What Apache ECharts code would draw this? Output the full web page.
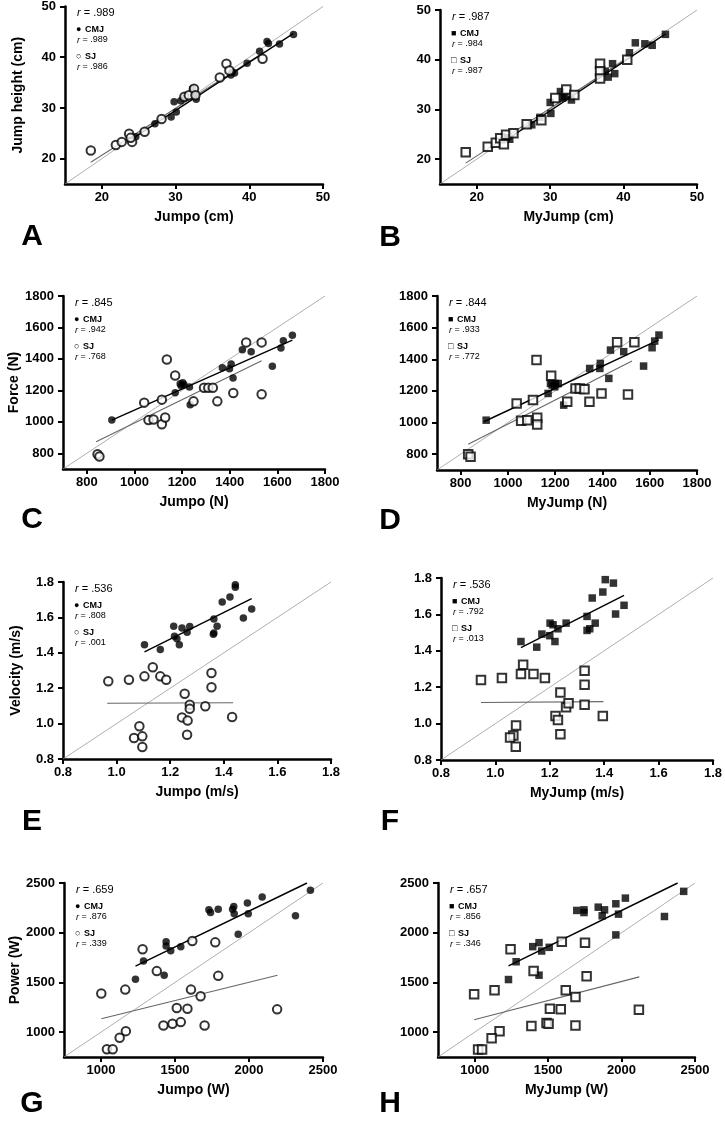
<!DOCTYPE html>
<html><head><meta charset="utf-8">
<script src="https://cdn.jsdelivr.net/npm/echarts@6/dist/echarts.min.js"></script>
<style>html,body{margin:0;padding:0;background:#fff}#c{width:725px;height:1125px}</style>
</head><body><div id="c"></div>
<script>
// ---------- tick labels ----------
const heightTicks = [20, 30, 40, 50];
const forceTicks = [800, 1000, 1200, 1400, 1600, 1800];
const velTicks = [0.8, 1.0, 1.2, 1.4, 1.6, 1.8];
const powerTicks = [1000, 1500, 2000, 2500];

// ---------- axis ranges ----------
const heightRange = [15, 50];
const forceRange = [700, 1800];
const velRange = [0.8, 1.8];
const powerRange = [750, 2500];

// ---------- r values: [overall, CMJ, SJ] ----------
const rA = ['.989', '.989', '.986'];
const rB = ['.987', '.984', '.987'];
const rC = ['.845', '.942', '.768'];
const rD = ['.844', '.933', '.772'];
const rE = ['.536', '.808', '.001'];
const rF = ['.536', '.792', '.013'];
const rG = ['.659', '.876', '.339'];
const rH = ['.657', '.856', '.346'];

// ---------- A: jump height, Jumpo ----------
const A_cmj = [[46.0,44.5],[44.1,42.6],[42.4,43.1],[42.6,42.7],[41.4,41.2],[39.7,38.8],[38.0,36.9],[37.5,36.5],[37.7,37.1],[32.8,31.7],[32.5,32.7],[32.3,33.8],[31.3,32.1],[30.7,31.4],[29.8,31.2],[30.1,29.2],[29.4,28.2],[27.2,26.9],[24.6,24.3],[24.0,23.8]];
const A_sj = [[18.5,21.6],[21.9,22.7],[22.7,23.3],[23.7,24.9],[24.1,23.3],[23.9,24.1],[25.8,25.3],[28.1,27.8],[31.2,32.2],[31.8,32.5],[32.5,33.8],[32.7,32.5],[36.0,36.0],[36.9,38.7],[37.3,37.4],[41.8,39.7]];
const A_fitCmj = [[23.8,23.6],[46.0,44.7]];
const A_fitSj = [[18.5,19.3],[41.8,40.8]];

// ---------- B: jump height, MyJump ----------
const B_cmj = [[45.7,45.1],[43.9,42.9],[42.9,43.2],[41.6,43.4],[40.8,41.4],[38.5,39.2],[38.8,37.2],[37.9,36.5],[37.5,37.7],[32.9,31.9],[32.0,32.6],[31.4,33.6],[31.7,32.3],[30.0,31.4],[30.1,29.2],[28.6,28.4],[27.5,26.9],[24.5,24.0],[24.0,24.3]];
const B_sj = [[18.5,21.4],[21.5,22.5],[22.6,23.3],[23.2,24.2],[23.7,23.0],[24.0,24.9],[25.0,25.2],[26.8,27.0],[28.8,27.8],[30.7,32.3],[32.2,34.0],[33.3,32.9],[36.8,39.2],[36.8,37.7],[36.8,36.2],[40.5,40.0]];
const B_fitCmj = [[24.0,23.8],[45.7,45.2]];
const B_fitSj = [[18.5,19.2],[40.5,40.3]];

// ---------- C: force, Jumpo ----------
const C_cmj = [[905,1011],[1171,1185],[1192,1242],[1203,1248],[1208,1236],[1231,1221],[1234,1109],[1369,1343],[1399,1337],[1406,1368],[1414,1278],[1453,1459],[1490,1446],[1579,1354],[1615,1469],[1625,1516],[1663,1551],[1196,1230]];
const C_sj = [[845,794],[853,779],[1041,1122],[1059,1011],[1080,1015],[1115,1141],[1115,985],[1129,1027],[1136,1396],[1171,1295],[1248,1130],[1292,1217],[1310,1217],[1329,1217],[1348,1130],[1415,1183],[1469,1505],[1534,1175],[1534,1505]];
const C_fitCmj = [[905,1011],[1663,1520]];
const C_fitSj = [[839,874],[1534,1389]];

// ---------- D: force, MyJump ----------
const D_cmj = [[908,1015],[1170,1184],[1180,1247],[1187,1237],[1201,1247],[1213,1247],[1198,1226],[1236,1110],[1346,1342],[1391,1374],[1389,1342],[1427,1279],[1434,1458],[1490,1448],[1574,1357],[1610,1473],[1621,1515],[1639,1553]];
const D_sj = [[832,800],[842,783],[1037,1121],[1056,1011],[1082,1015],[1106,1142],[1121,1395],[1124,1030],[1124,988],[1183,1296],[1251,1131],[1286,1216],[1304,1216],[1324,1211],[1345,1131],[1396,1184],[1462,1507],[1508,1178],[1535,1507]];
const D_fitCmj = [[898,1005],[1638,1522]];
const D_fitSj = [[832,863],[1525,1389]];

// ---------- E: velocity, Jumpo ----------
const E_cmj = [[1.104,1.446],[1.163,1.418],[1.213,1.550],[1.216,1.493],[1.225,1.480],[1.234,1.446],[1.244,1.540],[1.263,1.516],[1.273,1.548],[1.363,1.512],[1.363,1.591],[1.375,1.550],[1.394,1.687],[1.423,1.715],[1.443,1.785],[1.443,1.770],[1.473,1.597],[1.504,1.647],[1.361,1.505]];
const E_sj = [[0.969,1.239],[1.046,1.248],[1.104,1.267],[1.135,1.318],[1.163,1.267],[1.185,1.248],[1.085,0.985],[1.065,0.919],[1.096,0.928],[1.096,0.868],[1.244,1.035],[1.254,1.169],[1.265,1.017],[1.263,0.937],[1.273,1.107],[1.273,1.084],[1.331,1.098],[1.354,1.286],[1.354,1.205],[1.431,1.037]];
const E_fitCmj = [[1.104,1.405],[1.504,1.706]];
const E_fitSj = [[0.965,1.115],[1.435,1.118]];

// ---------- F: velocity, MyJump ----------
const F_cmj = [[1.094,1.451],[1.152,1.420],[1.171,1.492],[1.200,1.483],[1.201,1.552],[1.212,1.543],[1.219,1.451],[1.230,1.521],[1.260,1.552],[1.337,1.589],[1.337,1.512],[1.347,1.521],[1.367,1.552],[1.356,1.690],[1.395,1.723],[1.404,1.791],[1.434,1.772],[1.442,1.602],[1.473,1.650]];
const F_sj = [[0.947,1.240],[1.024,1.250],[1.094,1.272],[1.102,1.323],[1.140,1.272],[1.182,1.250],[1.076,0.989],[1.066,0.934],[1.054,0.923],[1.075,0.873],[1.221,1.042],[1.230,1.020],[1.239,1.171],[1.239,0.941],[1.260,1.090],[1.269,1.112],[1.328,1.290],[1.328,1.213],[1.328,1.103],[1.395,1.042]];
const F_fitCmj = [[1.094,1.418],[1.473,1.705]];
const F_fitSj = [[0.947,1.116],[1.397,1.121]];

// ---------- G: power, Jumpo ----------
const G_cmj = [[2415,2426],[2314,2170],[2089,2359],[1989,2298],[1995,2190],[1927,1984],[1897,2264],[1889,2237],[1900,2190],[1792,2237],[1729,2230],[1740,2203],[1539,1860],[1471,1819],[1440,1910],[1440,1866],[1427,1573],[1287,1715],[1233,1533]];
const G_sj = [[1002,1388],[1164,1428],[1281,1833],[1377,1614],[1617,1917],[1772,1903],[1792,1566],[1608,1428],[1673,1361],[1512,1243],[1584,1236],[1422,1067],[1483,1084],[1539,1101],[1700,1067],[2190,1229],[1168,1010],[1126,943],[1040,828],[1079,828]];
const G_fitCmj = [[1233,1664],[2392,2500]];
const G_fitSj = [[1002,1135],[2192,1573]];

// ---------- H: power, MyJump ----------
const H_cmj = [[2423,2416],[2292,2163],[2026,2348],[1961,2291],[1979,2187],[1961,1978],[1841,2257],[1884,2230],[1868,2170],[1744,2230],[1744,2203],[1695,2224],[1507,1853],[1456,1816],[1395,1860],[1438,1900],[1438,1573],[1282,1708],[1230,1529]];
const H_sj = [[996,1381],[1135,1421],[1244,1833],[1401,1614],[1593,1910],[1751,1900],[1762,1563],[1620,1421],[1686,1354],[1512,1236],[1586,1229],[1386,1061],[1489,1091],[1503,1084],[1686,1067],[2118,1226],[1169,1010],[1115,939],[1023,825],[1050,825]];
const H_fitCmj = [[1230,1667],[2382,2500]];
const H_fitSj = [[996,1125],[2121,1556]];

// ---------- layout ----------
const FONT = '"Liberation Sans", Arial, Helvetica, sans-serif';
const panels = [
  {id:'A', grid:{left:65,top:6,width:258,height:178}, range:heightRange, ticks:heightTicks, xname:'Jumpo (cm)', yname:'Jump height (cm)', shape:'circle', cmj:A_cmj, sj:A_sj, fc:A_fitCmj, fs:A_fitSj, r:rA, lx:32, ly:237},
  {id:'B', grid:{left:440,top:10,width:257,height:174}, range:heightRange, ticks:heightTicks, xname:'MyJump (cm)', yname:'', shape:'rect', cmj:B_cmj, sj:B_sj, fc:B_fitCmj, fs:B_fitSj, r:rB, lx:390, ly:238},
  {id:'C', grid:{left:63,top:296,width:262,height:173}, range:forceRange, ticks:forceTicks, xname:'Jumpo (N)', yname:'Force (N)', shape:'circle', cmj:C_cmj, sj:C_sj, fc:C_fitCmj, fs:C_fitSj, r:rC, lx:32, ly:520},
  {id:'D', grid:{left:437,top:296,width:260,height:174}, range:forceRange, ticks:forceTicks, xname:'MyJump (N)', yname:'', shape:'rect', cmj:D_cmj, sj:D_sj, fc:D_fitCmj, fs:D_fitSj, r:rD, lx:390, ly:521},
  {id:'E', grid:{left:63,top:582,width:268,height:177}, range:velRange, ticks:velTicks, xname:'Jumpo (m/s)', yname:'Velocity (m/s)', shape:'circle', cmj:E_cmj, sj:E_sj, fc:E_fitCmj, fs:E_fitSj, r:rE, lx:32, ly:822, dec:1},
  {id:'F', grid:{left:441,top:578,width:275,height:182}, range:velRange, ticks:velTicks, xname:'MyJump (m/s)', yname:'', shape:'rect', cmj:F_cmj, sj:F_sj, fc:F_fitCmj, fs:F_fitSj, r:rF, lx:390, ly:822, dec:1},
  {id:'G', grid:{left:64,top:883,width:259,height:174}, range:powerRange, ticks:powerTicks, xname:'Jumpo (W)', yname:'Power (W)', shape:'circle', cmj:G_cmj, sj:G_sj, fc:G_fitCmj, fs:G_fitSj, r:rG, lx:32, ly:1104},
  {id:'H', grid:{left:438,top:883,width:257,height:174}, range:powerRange, ticks:powerTicks, xname:'MyJump (W)', yname:'', shape:'rect', cmj:H_cmj, sj:H_sj, fc:H_fitCmj, fs:H_fitSj, r:rH, lx:390, ly:1104}
];

const grids = [], xAxes = [], yAxes = [], series = [], graphics = [];
function axisCfg(p, i, isX) {
  const fmt = p.dec ? (v => Number(v).toFixed(p.dec)) : (v => String(v));
  return {
    type: 'value', gridIndex: i, min: p.range[0], max: p.range[1],
    axisLine: {show: true, onZero: false, lineStyle: {color: '#000', width: 2.5}},
    axisTick: {show: true, customValues: p.ticks, length: 5, lineStyle: {color: '#000', width: 2}},
    axisLabel: {customValues: p.ticks, formatter: fmt, fontFamily: FONT, fontWeight: 'bold', fontSize: 13, color: '#000', margin: isX ? 7 : 9},
    splitLine: {show: false},
    name: isX ? p.xname : p.yname, nameLocation: 'middle', nameGap: isX ? 26 : 40,
    nameTextStyle: {fontFamily: FONT, fontWeight: 'bold', fontSize: 14, color: '#000'}
  };
}
panels.forEach((p, i) => {
  grids.push(Object.assign({containLabel: false}, p.grid));
  xAxes.push(axisCfg(p, i, true));
  yAxes.push(axisCfg(p, i, false));
  const diag = [[p.range[0], p.range[0]], [p.range[1], p.range[1]]];
  series.push({type: 'line', xAxisIndex: i, yAxisIndex: i, data: diag, symbol: 'none', silent: true, z: 1,
    lineStyle: {color: '#9a9a9a', width: 0.8}});
  series.push({type: 'line', xAxisIndex: i, yAxisIndex: i, data: p.fs, symbol: 'none', silent: true, z: 2,
    lineStyle: {color: '#666', width: 1.1}});
  series.push({type: 'line', xAxisIndex: i, yAxisIndex: i, data: p.fc, symbol: 'none', silent: true, z: 2,
    lineStyle: {color: '#000', width: 1.4}});
  series.push({type: 'scatter', xAxisIndex: i, yAxisIndex: i, data: p.cmj, symbol: p.shape,
    symbolSize: p.shape === 'rect' ? 7.5 : 7.5, itemStyle: {color: '#000'}, z: 3});
  series.push({type: 'scatter', xAxisIndex: i, yAxisIndex: i, data: p.sj, symbol: p.shape,
    symbolSize: p.shape === 'rect' ? 8.5 : 8.5, itemStyle: {color: '#fff', borderColor: '#000', borderWidth: 2}, z: 4});

  const L = p.grid.left, T = p.grid.top;
  const rich = {i: {fontStyle: 'italic', fontFamily: FONT, fontSize: 11, fill: '#000'}, s: {fontStyle: 'italic', fontFamily: FONT, fontSize: 9, fill: '#000'}};
  const txt = (x, y, text, size, bold, extra) => graphics.push({type: 'text', x, y, silent: true,
    style: Object.assign({text, fontFamily: FONT, fontSize: size, fontWeight: bold ? 'bold' : 'normal', fill: '#000', verticalAlign: 'middle', align: 'left', rich}, extra || {})});
  txt(L + 12, T + 7, '{i|r} = ' + p.r[0], 11, false);
  txt(L + 11, T + 24, p.shape === 'rect' ? '\u25A0' : '\u25CF', 9, false);
  txt(L + 20, T + 24, 'CMJ', 9, true);
  txt(L + 12, T + 34, '{s|r} = ' + p.r[1], 9, false);
  txt(L + 11, T + 51, p.shape === 'rect' ? '\u25A1' : '\u25CB', 9, false);
  txt(L + 20, T + 51, 'SJ', 9, true);
  txt(L + 12, T + 61, '{s|r} = ' + p.r[2], 9, false);
  graphics.push({type: 'text', x: p.lx, y: p.ly, silent: true,
    style: {text: p.id, fontFamily: FONT, fontSize: 30, fontWeight: 'bold', fill: '#000', align: 'center', verticalAlign: 'middle'}});
});

const chart = echarts.init(document.getElementById('c'), null, {renderer: 'canvas'});
chart.setOption({
  animation: false, backgroundColor: '#fff',
  grid: grids, xAxis: xAxes, yAxis: yAxes, series, graphic: graphics
});
</script></body></html>
